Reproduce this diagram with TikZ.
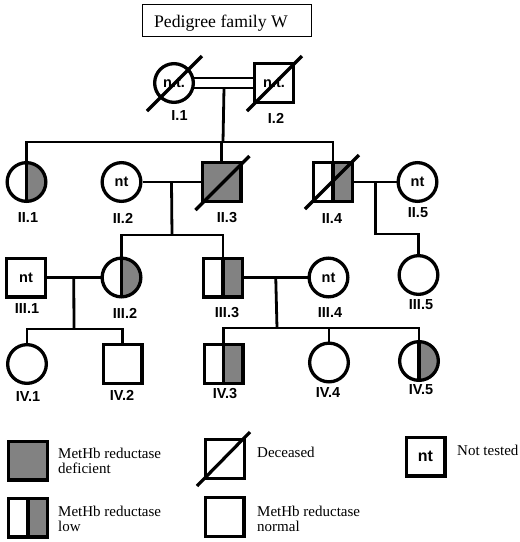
\documentclass[tikz,border=0pt]{standalone}
\usepackage{fontspec}
\setmainfont{Liberation Serif}
\newfontfamily\labfont{Liberation Sans}
\usetikzlibrary{calc,backgrounds}
\definecolor{gfill}{RGB}{130,130,130}
\tikzset{
 sym/.style={draw=black, line width=3.3pt, fill=white, minimum size=38.7pt, inner sep=0pt,
   font=\labfont\bfseries\fontsize{14.5}{16}\selectfont},
 male/.style={sym, rectangle},
 female/.style={sym, circle},
 affected/.style={fill=gfill},
 carrier/.style={path picture={
   \fill[gfill] (path picture bounding box.north) rectangle (path picture bounding box.south east);
   \draw[line width=3.3pt] (path picture bounding box.north) -- (path picture bounding box.south);}},
 slashline/.style={line width=3.2pt},
 conn/.style={line width=2.8pt},
 lbl/.style={font=\labfont\bfseries\fontsize{14.5}{16}\selectfont, inner sep=0pt},
 legtext/.style={font=\fontsize{15}{15}\selectfont, align=left, anchor=west, inner sep=0pt},
}
\begin{document}
\begin{tikzpicture}[x=1pt,y=-1pt]
\useasboundingbox (0,0) rectangle (520,542);
% title
\node[draw, line width=1.3pt, minimum width=169pt, minimum height=32pt, inner sep=0pt] (titlebox) at (227,20.5) {};
\node[font=\fontsize{17.7}{18}\selectfont, anchor=base, inner sep=0pt] (title) at (221,27.5) {Pedigree family W};
% generation I
\node[female] (I1) at (174,83) {n.t.};
\node[male] (I2) at (274,83) {n.t.};
% generation II
\node[female, carrier] (II1) at (26.5,182) {};
\node[female] (II2) at (121.5,182) {nt};
\node[male, affected] (II3) at (221.5,182) {};
\node[male, carrier] (II4) at (333,182) {};
\node[female] (II5) at (417.5,182) {nt};
% generation III
\node[male] (III1) at (26,277.5) {nt};
\node[female, carrier] (III2) at (121.5,277.5) {};
\node[male, carrier] (III3) at (223,277.5) {};
\node[female] (III4) at (328.5,277.5) {nt};
\node[female] (III5) at (418.5,275) {};
% generation IV
\node[female] (IV1) at (27,364) {};
\node[male] (IV2) at (122.5,364) {};
\node[male, carrier] (IV3) at (223.5,364) {};
\node[female] (IV4) at (329,362.5) {};
\node[female, carrier] (IV5) at (419,361) {};
% deceased slashes
\draw[slashline] ($(I1.center)+(-27,28)$) -- ($(I1.center)+(28,-27)$);
\draw[slashline] ($(I2.center)+(-27,28)$) -- ($(I2.center)+(28,-27)$);
\draw[slashline] ($(II3.center)+(-26,28)$) -- ($(II3.center)+(28,-26)$);
\draw[slashline] ($(II4.center)+(-28,27)$) -- ($(II4.center)+(26,-27)$);
% labels
\node[lbl] (lI1) at (179.5,116) {I.1};
\node[lbl] (lI2) at (276,118) {I.2};
\node[lbl] (lII1) at (28,218) {II.1};
\node[lbl] (lII2) at (123,218) {II.2};
\node[lbl] (lII3) at (227,218) {II.3};
\node[lbl] (lII4) at (332,219) {II.4};
\node[lbl] (lII5) at (418,212.5) {II.5};
\node[lbl] (lIII1) at (27,309) {III.1};
\node[lbl] (lIII2) at (125,313) {III.2};
\node[lbl] (lIII3) at (227,313) {III.3};
\node[lbl] (lIII4) at (330,313) {III.4};
\node[lbl] (lIII5) at (421,305) {III.5};
\node[lbl] (lIV1) at (28,397) {IV.1};
\node[lbl] (lIV2) at (122,395) {IV.2};
\node[lbl] (lIV3) at (225,394) {IV.3};
\node[lbl] (lIV4) at (328,393) {IV.4};
\node[lbl] (lIV5) at (421,390) {IV.5};
% connectors
\begin{pgfonlayer}{background}
\draw[conn] ($(I1.center)+(0,-5)$) -- ($(I2.center)+(0,-5)$);
\draw[conn] ($(I1.center)+(0,5)$) -- ($(I2.center)+(0,5)$);
\end{pgfonlayer}
\coordinate (mI) at ($(I1.center)!0.5!(I2.center)+(0,5)$);
\coordinate (sibII) at (223,142);
\draw[conn] (mI) -- (sibII);
\draw[conn] (II1.north) |- (sibII);
\draw[conn] (II4.north) |- (sibII);
\draw[conn] (II3.north) -- (II3.north |- sibII);
% II.2 x II.3
\draw[conn] (II2.east) -- (II3.west);
\coordinate (mII) at ($(II2.center)!0.5!(II3.center)$);
\coordinate (sibIII) at (172,235);
\draw[conn] (mII) -- (sibIII);
\draw[conn] (III2.north) -- (III2.north |- sibIII) -- (III3.north |- sibIII) -- (III3.north);
% II.4 x II.5
\draw[conn] (II4.east) -- (II5.west);
\coordinate (mII45) at ($(II4.center)!0.5!(II5.center)$);
\draw[conn] (mII45) -- ++(0,52) -| (III5.north);
% III.1 x III.2
\draw[conn] (III1.east) -- (III2.west);
\coordinate (mIII12) at ($(III1.center)!0.5!(III2.center)$);
\coordinate (sibIVa) at (74,329);
\draw[conn] (mIII12) -- (sibIVa);
\draw[conn] (IV1.north) -- (IV1.north |- sibIVa) -- (IV2.north |- sibIVa) -- (IV2.north);
% III.3 x III.4
\draw[conn] (III3.east) -- (III4.west);
\coordinate (mIII34) at ($(III3.center)!0.5!(III4.center)$);
\coordinate (sibIVb) at (277,328);
\draw[conn] (mIII34) -- (sibIVb);
\draw[conn] (IV3.north) -- (IV3.north |- sibIVb) -- (IV5.north |- sibIVb) -- (IV5.north);
\draw[conn] (IV4.north) -- (IV4.north |- sibIVb);
% legend
\node[male, affected] (legDef) at (28,460.5) {};
\node[legtext] (legDefT) at (58,460.5) {MetHb reductase\\deficient};
\node[male] (legDec) at (225,459) {};
\draw[slashline] ($(legDec.center)+(-28,27)$) -- ($(legDec.center)+(25,-27)$);
\node[legtext] (legDecT) at (257,452) {Deceased};
\node[male, font=\labfont\bfseries\fontsize{16}{18}\selectfont] (legNT) at (425.5,456.5) {nt};
\node[legtext] (legNTT) at (457,450) {Not tested};
\node[male, carrier] (legLow) at (28,517.5) {};
\node[legtext] (legLowT) at (58,519) {MetHb reductase\\low};
\node[male] (legNorm) at (224.5,517) {};
\node[legtext] (legNormT) at (257,518.5) {MetHb reductase\\normal};
\end{tikzpicture}
\end{document}
